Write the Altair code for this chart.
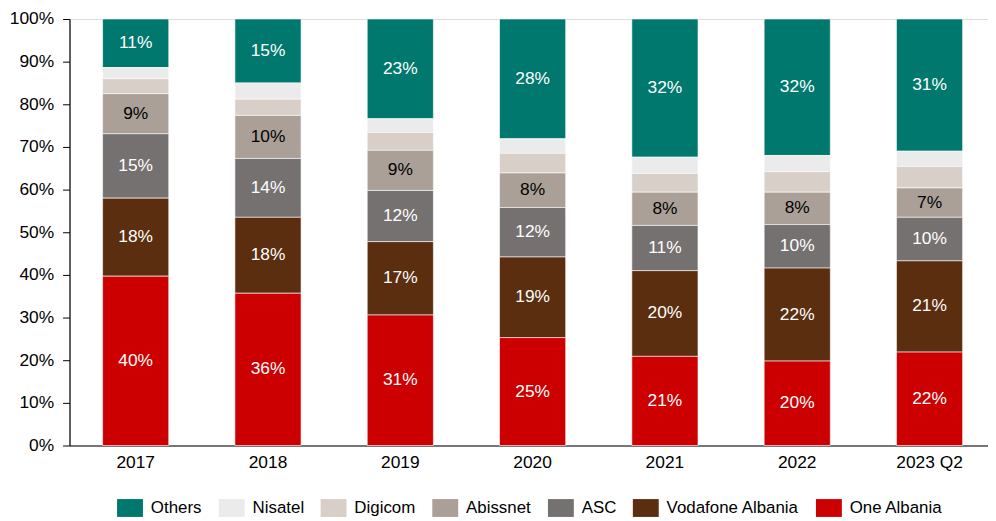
import altair as alt
import pandas as pd

years = ["2017", "2018", "2019", "2020", "2021", "2022", "2023 Q2"]
series = ["Others", "Nisatel", "Digicom", "Abissnet", "ASC", "Vodafone Albania", "One Albania"]
colors = ["#00786E", "#EBEBEB", "#D7CFC8", "#ABA097", "#767171", "#5A2E0E", "#CC0000"]

one_albania = [39.7, 35.7, 30.6, 25.3, 20.9, 19.8, 21.9]
vodafone = [18.3, 17.8, 17.2, 18.9, 20.1, 21.8, 21.4]
asc = [15.1, 13.8, 12.0, 11.6, 10.6, 10.2, 10.2]
abissnet = [9.4, 10.1, 9.4, 8.1, 7.8, 7.6, 6.9]
digicom = [3.5, 3.8, 4.2, 4.6, 4.4, 4.8, 5.0]
nisatel = [2.6, 3.8, 3.2, 3.4, 3.8, 3.8, 3.6]
others = [11.4, 15.0, 23.4, 28.1, 32.4, 32.0, 31.0]

values = {
    "Others": others,
    "Nisatel": nisatel,
    "Digicom": digicom,
    "Abissnet": abissnet,
    "ASC": asc,
    "Vodafone Albania": vodafone,
    "One Albania": one_albania,
}
labelled = ["Others", "Abissnet", "ASC", "Vodafone Albania", "One Albania"]

rows = []
for s in series:
    for i, y in enumerate(years):
        rows.append({
            "year": y,
            "series": s,
            "value": values[s][i] / 100.0,
            "order": len(series) - series.index(s),
            "show": s in labelled,
        })
df = pd.DataFrame(rows)

FONT = "Liberation Sans"
FS = 17.5

x_enc = alt.X(
    "year:N",
    sort=years,
    title=None,
    scale=alt.Scale(paddingInner=0.5, paddingOuter=0.221, align=0.566),
    axis=alt.Axis(labelAngle=0, ticks=False, labelPadding=8, labelFontSize=FS,
                  labelColor="#000000", domainColor="#000000", domainWidth=1.2),
)

bars = alt.Chart(df).mark_bar(stroke="white", strokeWidth=0.6).encode(
    x=x_enc,
    y=alt.Y(
        "value:Q",
        stack="zero",
        title=None,
        scale=alt.Scale(domain=[0, 1], nice=False),
        axis=alt.Axis(format=".0%", values=[i / 10 for i in range(11)], grid=False,
                      tickSize=7, tickColor="#000000", labelPadding=9, labelFontSize=FS,
                      labelColor="#000000", domainColor="#000000", domainWidth=1.2),
    ),
    color=alt.Color(
        "series:N",
        scale=alt.Scale(domain=series, range=colors),
        legend=alt.Legend(
            title=None, orient="none", direction="horizontal", columns=7,
            legendX=52, legendY=484, padding=0,
            symbolType="M-1.45,-1H1.45V1H-1.45Z", symbolSize=324,
            symbolStrokeWidth=0, symbolOpacity=1,
            labelFontSize=17, labelFont=FONT, labelColor="#000000",
            labelOffset=12, columnPadding=15.6,
        ),
    ),
    order=alt.Order("order:Q"),
)

labels = alt.Chart(df).transform_stack(
    stack="value", groupby=["year"], as_=["v0", "v1"], sort=[alt.SortField("order")]
).transform_calculate(
    mid="(datum.v0 + datum.v1) / 2"
).transform_filter(
    alt.datum.show
).mark_text(fontSize=FS, font=FONT, baseline="middle", align="center").encode(
    x=alt.X("year:N", sort=years),
    y=alt.Y("mid:Q"),
    text=alt.Text("value:Q", format=".0%"),
    color=alt.condition(alt.datum.series == "Abissnet", alt.value("#000000"), alt.value("#FFFFFF")),
)

chart = alt.layer(bars, labels).properties(
    width=926,
    height=430,
    autosize=alt.AutoSizeParams(type="none"),
    padding={"left": 62, "top": 9, "right": 0, "bottom": 72},
).configure_view(stroke=None).configure(font=FONT)

chart.save("out.html", embed_options={"renderer": "svg", "actions": False})
